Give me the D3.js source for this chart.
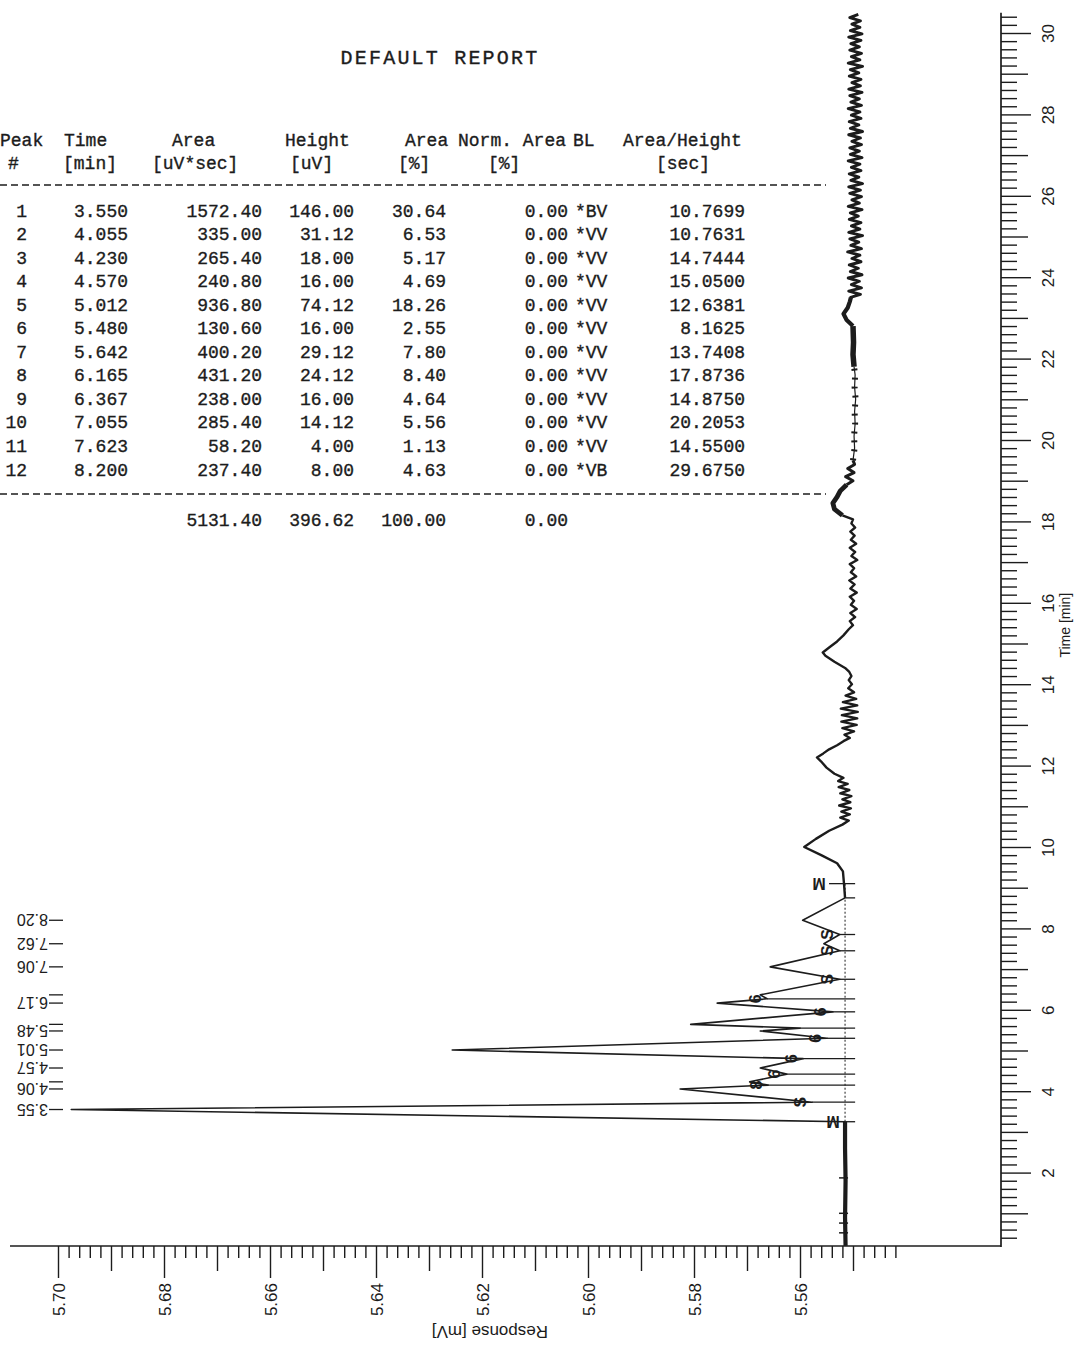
<!DOCTYPE html>
<html>
<head>
<meta charset="utf-8">
<script src="https://cdn.jsdelivr.net/npm/d3@7"></script>
<style>
  html, body { margin: 0; padding: 0; background: #fff; }
  svg { display: block; }
</style>
</head>
<body>
<svg id="chart" width="1076" height="1346"></svg>
<script>
// ---------------- Peak report ----------------
const reportTitle = "DEFAULT REPORT";
const headerTop   = ["Peak", "Time", "Area", "Height", "Area", "Norm. Area", "BL", "Area/Height"];
const headerUnits = ["#", "[min]", "[uV*sec]", "[uV]", "[%]", "[%]", "", "[sec]"];

const peakNo     = [1, 2, 3, 4, 5, 6, 7, 8, 9, 10, 11, 12];
const peakTime   = [3.550, 4.055, 4.230, 4.570, 5.012, 5.480, 5.642, 6.165, 6.367, 7.055, 7.623, 8.200];
const peakArea   = [1572.40, 335.00, 265.40, 240.80, 936.80, 130.60, 400.20, 431.20, 238.00, 285.40, 58.20, 237.40];
const peakHeight = [146.00, 31.12, 18.00, 16.00, 74.12, 16.00, 29.12, 24.12, 16.00, 14.12, 4.00, 8.00];
const areaPct    = [30.64, 6.53, 5.17, 4.69, 18.26, 2.55, 7.80, 8.40, 4.64, 5.56, 1.13, 4.63];
const normArea   = [0, 0, 0, 0, 0, 0, 0, 0, 0, 0, 0, 0];
const blCode     = ["*BV", "*VV", "*VV", "*VV", "*VV", "*VV", "*VV", "*VV", "*VV", "*VV", "*VV", "*VB"];
const areaHeight = [10.7699, 10.7631, 14.7444, 15.0500, 12.6381, 8.1625, 13.7408, 17.8736, 14.8750, 20.2053, 14.5500, 29.6750];
const totalArea = 5131.40, totalHeight = 396.62, totalPct = 100.00, totalNorm = 0.00;

// ---------------- Chromatogram ----------------
const baselineMV = 5.5515;       // detector baseline under the peak cluster
const dropEndMV  = 5.5496;       // where the integration drop lines stop

// Run start: flat baseline before the first peak  [min, mV]
const leadIn = [[0.2, 5.5514], [0.9, 5.5515], [1.8, 5.5514], [2.6, 5.5515], [3.25, 5.5515]];
// Valleys between integrated peaks (peak k lies between valley k and k+1)
const valleyTime = [3.25, 3.73, 4.15, 4.42, 4.80, 5.30, 5.55, 5.95, 6.27, 6.75, 7.45, 7.85, 8.75];
const valleyMV   = [5.5515, 5.5577, 5.5660, 5.5625, 5.5594, 5.5549, 5.5600, 5.5538, 5.5662, 5.5525, 5.5525, 5.5525, 5.5515];
const valleyMark = ["M", "S", "8", "6", "6", "6", "", "6", "6", "S", "S", "S", ""];
// Integration end marker
const endMarkTime = 9.1;
// Small event ticks on the starting baseline
const eventMarkTime = [0.52, 0.76, 1.0, 1.87];

// Labelled retention times
const peakLabelText = ["3.55", "4.06", "4.57", "5.01", "5.48", "6.17", "7.06", "7.62", "8.20"];
const peakLabelTime = [3.55, 4.06, 4.57, 5.01, 5.48, 6.17, 7.06, 7.62, 8.20];

// After the cluster: humps and noise  [min, mV]
const tailA = [
  [8.75, 5.5515], [9.1, 5.5517], [9.4, 5.5519], [9.6, 5.5530], [9.8, 5.5560], [10.0, 5.5592], [10.2, 5.5570],
  [10.4, 5.5545], [10.55, 5.5520],
  [10.65, 5.5508], [10.72, 5.5524], [10.8, 5.5506], [10.87, 5.5522], [10.95, 5.5504], [11.02, 5.5526],
  [11.1, 5.5505], [11.17, 5.5520], [11.25, 5.5503], [11.32, 5.5524], [11.4, 5.5507], [11.47, 5.5527],
  [11.55, 5.5510], [11.62, 5.5528], [11.7, 5.5518],
  [11.8, 5.5535], [11.95, 5.5550], [12.1, 5.5560], [12.2, 5.5568], [12.3, 5.5556], [12.4, 5.5545],
  [12.5, 5.5530], [12.6, 5.5518],
  [12.68, 5.5506], [12.76, 5.5516], [12.84, 5.5498], [12.92, 5.5520], [13.0, 5.5493], [13.08, 5.5522],
  [13.16, 5.5492], [13.24, 5.5521], [13.32, 5.5491], [13.4, 5.5523], [13.48, 5.5492], [13.56, 5.5519],
  [13.64, 5.5494], [13.72, 5.5514], [13.8, 5.5498], [13.9, 5.5509], [14.0, 5.5502], [14.1, 5.5508],
  [14.2, 5.5503], [14.3, 5.5507],
  [14.4, 5.5515], [14.55, 5.5535], [14.7, 5.5552], [14.78, 5.5557], [14.9, 5.5545], [15.05, 5.5530],
  [15.2, 5.5518], [15.35, 5.5508],
  [15.45, 5.5500], [15.55, 5.5506], [15.65, 5.5496], [15.75, 5.5505], [15.85, 5.5493], [15.95, 5.5504],
  [16.05, 5.5498], [16.15, 5.5506], [16.25, 5.5493], [16.35, 5.5505], [16.45, 5.5497], [16.55, 5.5507],
  [16.65, 5.5494], [16.75, 5.5504], [16.85, 5.5498], [16.95, 5.5506], [17.05, 5.5492], [17.15, 5.5503],
  [17.25, 5.5496], [17.35, 5.5506], [17.45, 5.5494], [17.55, 5.5504], [17.65, 5.5497], [17.75, 5.5505],
  [17.85, 5.5496], [17.95, 5.5503], [18.05, 5.5500], [18.15, 5.5520]
];
const tailBulge  = [[18.15, 5.5520], [18.3, 5.5535], [18.45, 5.5538], [18.6, 5.5530], [18.75, 5.5524], [18.9, 5.5512]];
const tailB      = [[18.9, 5.5512], [19.0, 5.5500], [19.1, 5.5514], [19.2, 5.5498], [19.3, 5.5510], [19.4, 5.5497], [19.5, 5.5500]];
const dottedRun  = [[19.5, 5.5500], [19.8, 5.5497], [20.1, 5.5498], [20.4, 5.5496], [20.7, 5.5497], [21.0, 5.5495],
                    [21.3, 5.5497], [21.6, 5.5496], [21.8, 5.5498]];
const thickRun   = [[21.8, 5.5498], [22.1, 5.5500], [22.4, 5.5499], [22.8, 5.5500]];
const blobRun    = [[22.8, 5.5500], [22.95, 5.5512], [23.1, 5.5518], [23.25, 5.5510], [23.4, 5.5506], [23.5, 5.5504]];
// Baseline noise at the end of the run, sampled every 0.08 min from 23.5 min
const noiseStart = 23.5, noiseStep = 0.08;
const noiseTop = [
  5.5506, 5.5486, 5.5508, 5.5484, 5.5503, 5.5488, 5.5509, 5.5483, 5.5505, 5.5490,
  5.5507, 5.5485, 5.5502, 5.5487, 5.5510, 5.5484, 5.5504, 5.5489, 5.5506, 5.5482,
  5.5508, 5.5487, 5.5503, 5.5485, 5.5507, 5.5490, 5.5505, 5.5483, 5.5509, 5.5488,
  5.5502, 5.5484, 5.5506, 5.5486, 5.5508, 5.5482, 5.5504, 5.5489, 5.5507, 5.5485,
  5.5503, 5.5487, 5.5509, 5.5483, 5.5505, 5.5488, 5.5506, 5.5484, 5.5502, 5.5486,
  5.5508, 5.5482, 5.5505, 5.5489, 5.5507, 5.5485, 5.5503, 5.5487, 5.5509, 5.5484,
  5.5504, 5.5488, 5.5506, 5.5483, 5.5508, 5.5486, 5.5502, 5.5485, 5.5507, 5.5489,
  5.5505, 5.5482, 5.5509, 5.5487, 5.5503, 5.5484, 5.5506, 5.5488, 5.5504, 5.5485,
  5.5508, 5.5483, 5.5505, 5.5487, 5.5502, 5.5486, 5.5506, 5.5490
];

// Axis labels
const timeTickLabels = [2, 4, 6, 8, 10, 12, 14, 16, 18, 20, 22, 24, 26, 28, 30];
const responseTickLabels = ["5.70", "5.68", "5.66", "5.64", "5.62", "5.60", "5.58", "5.56"];
const timeTitle = "Time [min]";
const responseTitle = "Response [mV]";

// ---------------- Drawing ----------------
const svg = d3.select("#chart");
const ink = "#1c1c1c";
const mono = "'Liberation Mono', 'DejaVu Sans Mono', monospace";
const sans = "'Liberation Sans', Arial, sans-serif";

svg.append("rect").attr("width", 1076).attr("height", 1346).attr("fill", "#fff");

// The printout is rotated: time runs upward, response increases to the left.
const yT = d3.scaleLinear().domain([0, 30]).range([1254, 33]);
const xR = d3.scaleLinear().domain([5.70, 5.56]).range([58, 800]);

// --- report table ---
const tbl = svg.append("g").attr("font-family", mono).attr("font-size", 18).attr("fill", ink)
  .attr("stroke", ink).attr("stroke-width", 0.35);
tbl.append("text").attr("x", 440).attr("y", 64).attr("text-anchor", "middle")
  .attr("font-size", 20).attr("letter-spacing", 2.2).text(reportTitle);

const headStartX = [0, 64, 172, 285, 405, 458, 573, 623];
const unitStartX = [8, 63, 152, 290, 398, 488, 0, 656];
headerTop.forEach((h, i) => tbl.append("text").attr("x", headStartX[i]).attr("y", 146).text(h));
headerUnits.forEach((h, i) => { if (h) tbl.append("text").attr("x", unitStartX[i]).attr("y", 169).text(h); });

const rule = (y) => svg.append("line").attr("x1", 0).attr("x2", 826).attr("y1", y).attr("y2", y)
  .attr("stroke", ink).attr("stroke-width", 1.6).attr("stroke-dasharray", "7,4");
rule(185);
rule(494);

const rowY = (i) => 216.5 + i * 23.55;
const numCols = [
  { vals: peakNo,     fmt: d => String(d),    x: 27 },
  { vals: peakTime,   fmt: d => d.toFixed(3), x: 128 },
  { vals: peakArea,   fmt: d => d.toFixed(2), x: 262 },
  { vals: peakHeight, fmt: d => d.toFixed(2), x: 354 },
  { vals: areaPct,    fmt: d => d.toFixed(2), x: 446 },
  { vals: normArea,   fmt: d => d.toFixed(2), x: 568 },
  { vals: areaHeight, fmt: d => d.toFixed(4), x: 745 }
];
numCols.forEach(col => {
  tbl.selectAll(null).data(col.vals).join("text")
    .attr("x", col.x).attr("y", (d, i) => rowY(i)).attr("text-anchor", "end").text(col.fmt);
});
tbl.selectAll(null).data(blCode).join("text")
  .attr("x", 575).attr("y", (d, i) => rowY(i)).text(d => d);

const totY = 525.5;
[[totalArea, 262], [totalHeight, 354], [totalPct, 446], [totalNorm, 568]].forEach(([v, x]) =>
  tbl.append("text").attr("x", x).attr("y", totY).attr("text-anchor", "end").text(v.toFixed(2)));

// --- time axis (right) ---
const axisX = 1001;
const minorTimes = d3.range(2, 153).map(i => i / 5);
const gT = svg.append("g").attr("transform", `translate(${axisX},0)`)
  .call(d3.axisRight(yT).tickValues(minorTimes).tickFormat("").tickSizeOuter(0));
gT.select(".domain").remove();
gT.selectAll(".tick line")
  .attr("x2", d => { const m = Math.round(d * 5); return m % 10 === 0 ? 30 : (m % 5 === 0 ? 27 : 16); })
  .attr("stroke", ink).attr("stroke-width", 1.4);
svg.append("line").attr("x1", axisX).attr("x2", axisX).attr("y1", yT(30.5)).attr("y2", 1247)
  .attr("stroke", ink).attr("stroke-width", 1.7);

const gTL = svg.append("g").attr("transform", `translate(${axisX},0)`)
  .call(d3.axisRight(yT).tickValues(timeTickLabels).tickSize(0).tickFormat(d3.format("d")));
gTL.select(".domain").remove();
gTL.selectAll(".tick text")
  .attr("x", null).attr("dy", null)
  .attr("transform", "translate(53,0) rotate(-90)")
  .attr("text-anchor", "middle")
  .attr("font-family", sans).attr("font-size", 17).attr("fill", ink);

svg.append("text").attr("transform", `translate(1070,${yT(15.45)}) rotate(-90)`)
  .attr("text-anchor", "middle").attr("font-family", sans).attr("font-size", 14).attr("fill", ink)
  .text(timeTitle);

// --- response axis (bottom) ---
const axisY = 1246;
const respTicks = d3.range(0, 80).map(i => +(5.70 - i * 0.002).toFixed(3));
const gR = svg.append("g").attr("transform", `translate(0,${axisY})`)
  .call(d3.axisBottom(xR).tickValues(respTicks).tickFormat("").tickSizeOuter(0));
gR.select(".domain").remove();
gR.selectAll(".tick line")
  .attr("y2", (d, i) => (i % 10 === 0 ? 32 : (i % 5 === 0 ? 25 : 12)))
  .attr("stroke", ink).attr("stroke-width", 1.4);
svg.append("line").attr("x1", 10).attr("x2", axisX).attr("y1", axisY).attr("y2", axisY)
  .attr("stroke", ink).attr("stroke-width", 1.7);

const gRL = svg.append("g").attr("transform", `translate(0,${axisY})`)
  .call(d3.axisBottom(xR).tickValues(responseTickLabels.map(Number)).tickSize(0).tickFormat(d3.format(".2f")));
gRL.select(".domain").remove();
gRL.selectAll(".tick text")
  .attr("y", null).attr("dy", null)
  .attr("transform", "translate(6,37) rotate(-90)")
  .attr("text-anchor", "end")
  .attr("font-family", sans).attr("font-size", 17).attr("fill", ink);

svg.append("text").attr("transform", `translate(${xR(5.6185)},1326) rotate(180)`)
  .attr("text-anchor", "middle").attr("font-family", sans).attr("font-size", 17).attr("fill", ink)
  .text(responseTitle);

// --- chromatogram trace ---
const line = d3.line().x(d => xR(d[1])).y(d => yT(d[0]));
const drawTrace = (pts, w, dash) => svg.append("path").datum(pts).attr("d", line)
  .attr("fill", "none").attr("stroke", ink).attr("stroke-width", w)
  .attr("stroke-linejoin", "round").attr("stroke-dasharray", dash || null);

// integration baseline under the cluster
svg.append("line")
  .attr("x1", xR(baselineMV)).attr("x2", xR(baselineMV))
  .attr("y1", yT(valleyTime[0])).attr("y2", yT(endMarkTime))
  .attr("stroke", ink).attr("stroke-width", 1).attr("stroke-dasharray", "2,2");

// drop lines at every valley
const dropT = valleyTime.concat([endMarkTime]);
const dropV = valleyMV.concat([baselineMV]);
svg.selectAll(null).data(dropT).join("line")
  .attr("x1", (d, i) => xR(dropV[i])).attr("x2", xR(dropEndMV))
  .attr("y1", d => yT(d)).attr("y2", d => yT(d))
  .attr("stroke", ink).attr("stroke-width", 1.3);

// peak cluster: valley - apex - valley ...
const cluster = [];
valleyTime.forEach((t, i) => {
  cluster.push([t, valleyMV[i]]);
  if (i < peakTime.length) cluster.push([peakTime[i], baselineMV + peakHeight[i] / 1000]);
});

drawTrace(leadIn, 4.2);
drawTrace(cluster, 1.6);
drawTrace(tailA, 2.4);
drawTrace(tailBulge, 4.8);
drawTrace(tailB, 3);
drawTrace(dottedRun, 1.2);
drawTrace(dottedRun, 6, "2,7");
drawTrace(thickRun, 5.5);
drawTrace(blobRun, 4.2);
drawTrace(noiseTop.map((v, i) => [noiseStart + i * noiseStep, v]), 2.9);

// event ticks on the starting baseline
svg.selectAll(null).data(eventMarkTime).join("line")
  .attr("x1", xR(baselineMV) - 6).attr("x2", xR(baselineMV) + 3)
  .attr("y1", d => yT(d)).attr("y2", d => yT(d))
  .attr("stroke", ink).attr("stroke-width", 1.5);

// valley marks
svg.selectAll(null).data(valleyTime.filter((t, i) => valleyMark[i])).join("text")
  .attr("transform", d => {
    const i = valleyTime.indexOf(d);
    return `translate(${xR(valleyMV[i]) - 12},${yT(d)}) rotate(${valleyMark[i] === "M" ? 180 : -90})`;
  })
  .attr("text-anchor", "middle").attr("dominant-baseline", "central")
  .attr("font-family", sans).attr("font-size", 16).attr("font-weight", "bold").attr("fill", ink)
  .text(d => valleyMark[valleyTime.indexOf(d)]);

// end-of-integration marker
svg.append("text")
  .attr("transform", `translate(${xR(baselineMV) - 26},${yT(endMarkTime)}) rotate(180)`)
  .attr("text-anchor", "middle").attr("dominant-baseline", "central")
  .attr("font-family", sans).attr("font-size", 16).attr("font-weight", "bold").attr("fill", ink).text("M");
svg.append("line").attr("x1", xR(baselineMV) - 16).attr("x2", xR(baselineMV))
  .attr("y1", yT(endMarkTime)).attr("y2", yT(endMarkTime)).attr("stroke", ink).attr("stroke-width", 1.3);

// retention time labels (printed upside down at the far end of the response axis)
svg.selectAll(null).data(peakTime).join("line")
  .attr("x1", 49).attr("x2", 63).attr("y1", d => yT(d)).attr("y2", d => yT(d))
  .attr("stroke", ink).attr("stroke-width", 1.3);
svg.selectAll(null).data(peakLabelText).join("text")
  .attr("transform", (d, i) => `translate(48,${yT(peakLabelTime[i]) - 6}) rotate(180)`)
  .attr("text-anchor", "start")
  .attr("font-family", sans).attr("font-size", 16).attr("fill", ink)
  .text(d => d);
</script>
</body>
</html>
